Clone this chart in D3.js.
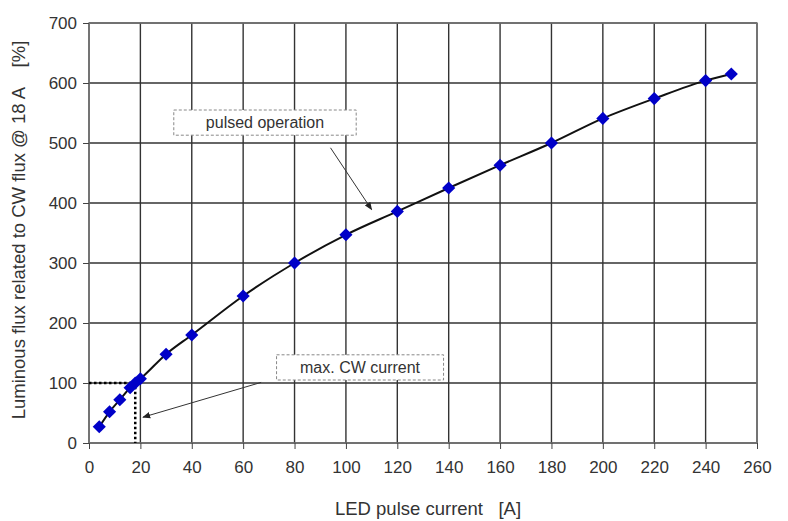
<!DOCTYPE html>
<html>
<head>
<meta charset="utf-8">
<script src="https://cdn.jsdelivr.net/npm/d3@7"></script>
<style>
  body { margin: 0; background: #fff; }
  svg text { font-family: "Liberation Sans", Arial, sans-serif; fill: #333; white-space: pre; }
</style>
</head>
<body>
<div id="chart"></div>
<script>
// pulse current [A]
var current = [4, 8, 12, 16, 18, 20, 30, 40, 60, 80, 100, 120, 140, 160, 180, 200, 220, 240, 250];
// luminous flux relative to CW flux @ 18 A [%]
var flux = [27, 52, 72, 92, 100, 107, 148, 180, 245, 300, 347, 386, 425, 463, 500, 541, 574, 604, 615];
var xTicks = d3.range(0, 261, 20);
var yTicks = d3.range(0, 701, 100);
var maxCw = {current: 18, flux: 100};

var width = 788, height = 521;
var margin = {top: 23, right: 31, bottom: 78, left: 89};

var svg = d3.select('#chart').append('svg')
    .attr('width', width)
    .attr('height', height);

var x = d3.scaleLinear().domain([0, 260]).range([margin.left, width - margin.right]);
var y = d3.scaleLinear().domain([0, 700]).range([height - margin.bottom, margin.top]);

svg.append('defs').append('marker')
    .attr('id', 'arrow')
    .attr('viewBox', '0 0 10 10')
    .attr('refX', 9).attr('refY', 5)
    .attr('markerWidth', 8).attr('markerHeight', 8)
    .attr('orient', 'auto')
    .append('path')
    .attr('d', 'M0,1L10,5L0,9Z')
    .attr('fill', '#222');

// grid
svg.append('g').selectAll('line')
    .data(xTicks)
    .enter().append('line')
    .attr('x1', function (d) { return x(d); })
    .attr('x2', function (d) { return x(d); })
    .attr('y1', y(0)).attr('y2', y(700))
    .attr('stroke', '#333').attr('stroke-width', 1.4);

svg.append('g').selectAll('line')
    .data(yTicks)
    .enter().append('line')
    .attr('x1', x(0)).attr('x2', x(260))
    .attr('y1', function (d) { return y(d); })
    .attr('y2', function (d) { return y(d); })
    .attr('stroke', '#333').attr('stroke-width', 1.4);

svg.append('rect')
    .attr('x', x(0)).attr('y', y(700))
    .attr('width', x(260) - x(0)).attr('height', y(0) - y(700))
    .attr('fill', 'none').attr('stroke', '#777').attr('stroke-width', 1.4);

// axes
var xAxis = svg.append('g')
    .attr('transform', 'translate(0,' + y(0) + ')')
    .call(d3.axisBottom(x).tickValues(xTicks).tickSize(6).tickPadding(12));
var yAxis = svg.append('g')
    .attr('transform', 'translate(' + x(0) + ',0)')
    .call(d3.axisLeft(y).tickValues(yTicks).tickSize(6).tickPadding(6));
[xAxis, yAxis].forEach(function (a) {
    a.select('.domain').remove();
    a.selectAll('line').attr('stroke', '#444');
    a.selectAll('text').style('font-size', '17px').attr('fill', '#333');
});

svg.append('text')
    .attr('x', 428).attr('y', 515)
    .attr('text-anchor', 'middle')
    .style('font-size', '18.5px')
    .text('LED pulse current   [A]');

svg.append('text')
    .attr('transform', 'translate(25,' + 230 + ')rotate(-90)')
    .attr('text-anchor', 'middle')
    .style('font-size', '18.5px')
    .text('Luminous flux related to CW flux @ 18 A    [%]');

// max CW dotted guides
svg.append('path')
    .attr('d', 'M' + x(0) + ',' + y(maxCw.flux) + 'H' + x(maxCw.current) + 'V' + y(0))
    .attr('fill', 'none')
    .attr('stroke', '#000')
    .attr('stroke-width', 2.5)
    .attr('stroke-dasharray', '2.5,2.5');

// curve
var line = d3.line()
    .x(function (d, i) { return x(current[i]); })
    .y(function (d) { return y(d); })
    .curve(d3.curveMonotoneX);

svg.append('path')
    .datum(flux)
    .attr('d', line)
    .attr('fill', 'none')
    .attr('stroke', '#111')
    .attr('stroke-width', 2);

svg.append('g').selectAll('path')
    .data(flux)
    .enter().append('path')
    .attr('transform', function (d, i) { return 'translate(' + x(current[i]) + ',' + y(d) + ')'; })
    .attr('d', d3.symbol().type(d3.symbolDiamond2).size(110))
    .attr('fill', '#0000c8');

// annotations
var notes = [
    {text: 'pulsed operation', box: [33, 555, 104, 513], from: [94, 492], to: [110, 389]},
    {text: 'max. CW current', box: [73, 147, 138, 105], from: [67, 101], to: [21, 43]}
];

notes.forEach(function (n) {
    svg.append('line')
        .attr('x1', x(n.from[0])).attr('y1', y(n.from[1]))
        .attr('x2', x(n.to[0])).attr('y2', y(n.to[1]))
        .attr('stroke', '#333').attr('stroke-width', 1)
        .attr('marker-end', 'url(#arrow)');
    svg.append('rect')
        .attr('x', x(n.box[0])).attr('y', y(n.box[1]))
        .attr('width', x(n.box[2]) - x(n.box[0]))
        .attr('height', y(n.box[3]) - y(n.box[1]))
        .attr('fill', '#fff')
        .attr('stroke', '#888')
        .attr('stroke-dasharray', '3,2');
    svg.append('text')
        .attr('x', (x(n.box[0]) + x(n.box[2])) / 2)
        .attr('y', (y(n.box[1]) + y(n.box[3])) / 2)
        .attr('dy', '0.35em')
        .attr('text-anchor', 'middle')
        .style('font-size', '16px')
        .text(n.text);
});
</script>
</body>
</html>
